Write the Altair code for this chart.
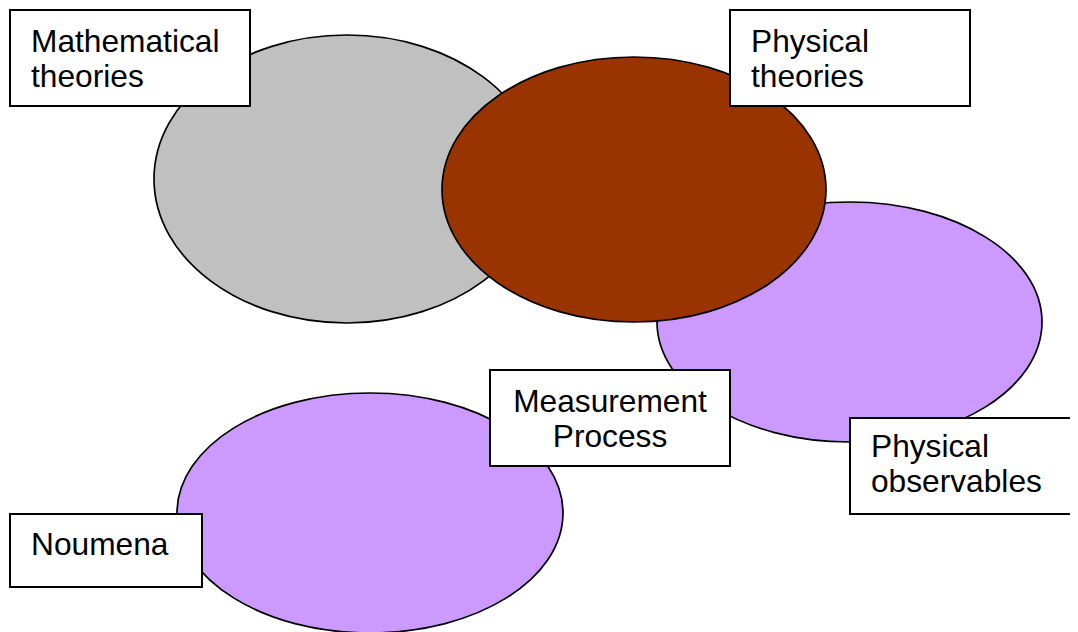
import altair as alt
import pandas as pd

# ---- Ellipses (centres and radii in picture pixels), drawn in this order ----
ell_names = ["Mathematical", "Observables", "Physical", "Noumena"]
ell_cx = [347, 849.5, 634, 370]
ell_cy = [179, 322, 189.5, 513]
ell_rx = [193, 192.5, 192, 193]
ell_ry = [144, 120, 132.5, 120]
ell_colors = ["#C0C0C0", "#CC99FF", "#993300", "#CC99FF"]

# ---- Text boxes ----
box_labels = ["Mathematical\ntheories", "Physical\ntheories", "Measurement\nProcess",
              "Physical\nobservables", "Noumena"]
box_x1 = [10, 730, 490, 850, 10]
box_x2 = [250, 970, 730, 1095, 202]
box_y1 = [10, 10, 370, 418, 514]
box_y2 = [106, 106, 466, 514, 587]
text_x = [31, 751, 610, 871, 31]
text_y = [52, 52, 411.5, 456.5, 555]
text_align = ["left", "left", "center", "left", "left"]


def ellipse_path(ratio):
    k = 0.5523
    r = ratio
    return (f"M 1 0 C 1 {k*r:.4f} {k} {r:.4f} 0 {r:.4f} "
            f"C {-k} {r:.4f} -1 {k*r:.4f} -1 0 "
            f"C -1 {-k*r:.4f} {-k} {-r:.4f} 0 {-r:.4f} "
            f"C {k} {-r:.4f} 1 {-k*r:.4f} 1 0 Z")


ell_df = pd.DataFrame({
    "name": ell_names,
    "cx": ell_cx,
    "cy": ell_cy,
    "rx": ell_rx,
    "ry": ell_ry,
    "color": ell_colors,
    "ord": list(range(len(ell_names))),
})
ell_df["path"] = [ellipse_path(ry / rx) for rx, ry in zip(ell_rx, ell_ry)]
ell_df["size"] = [(2 * rx) ** 2 for rx in ell_rx]

box_df = pd.DataFrame({
    "label": box_labels,
    "x1": box_x1, "x2": box_x2, "y1": box_y1, "y2": box_y2,
    "tx": text_x, "ty": text_y, "align": text_align,
})

W, H = 1062, 624
xs = alt.Scale(domain=[8, 8 + W], nice=False, zero=False)
ys = alt.Scale(domain=[8, 8 + H], reverse=True, nice=False, zero=False)

ellipses = alt.Chart(ell_df).mark_point(
    filled=True, opacity=1, stroke="black", strokeWidth=1.7
).encode(
    x=alt.X("cx:Q", scale=xs, axis=None),
    y=alt.Y("cy:Q", scale=ys, axis=None),
    fill=alt.Fill("color:N", scale=None),
    shape=alt.Shape("path:N", scale=None),
    size=alt.Size("size:Q", scale=None),
    order=alt.Order("ord:Q"),
)

boxes = alt.Chart(box_df).mark_rect(
    fill="white", stroke="black", strokeWidth=2
).encode(
    x=alt.X("x1:Q", scale=xs, axis=None),
    x2="x2:Q",
    y=alt.Y("y1:Q", scale=ys, axis=None),
    y2="y2:Q",
)

text_common = dict(font="Liberation Sans", fontSize=31.7, color="black",
                   baseline="alphabetic", lineBreak="\n", lineHeight=35)

texts_left = alt.Chart(box_df).transform_filter(
    alt.datum.align == "left"
).mark_text(align="left", **text_common).encode(
    x=alt.X("tx:Q", scale=xs, axis=None),
    y=alt.Y("ty:Q", scale=ys, axis=None),
    text="label:N",
)

texts_center = alt.Chart(box_df).transform_filter(
    alt.datum.align == "center"
).mark_text(align="center", **text_common).encode(
    x=alt.X("tx:Q", scale=xs, axis=None),
    y=alt.Y("ty:Q", scale=ys, axis=None),
    text="label:N",
)

chart = alt.layer(ellipses, boxes, texts_left, texts_center).properties(
    width=W, height=H,
    autosize=alt.AutoSizeParams(type="none"),
    padding=0,
).configure_view(stroke=None)

chart.save("out.html", embed_options={"renderer": "svg", "actions": False})
